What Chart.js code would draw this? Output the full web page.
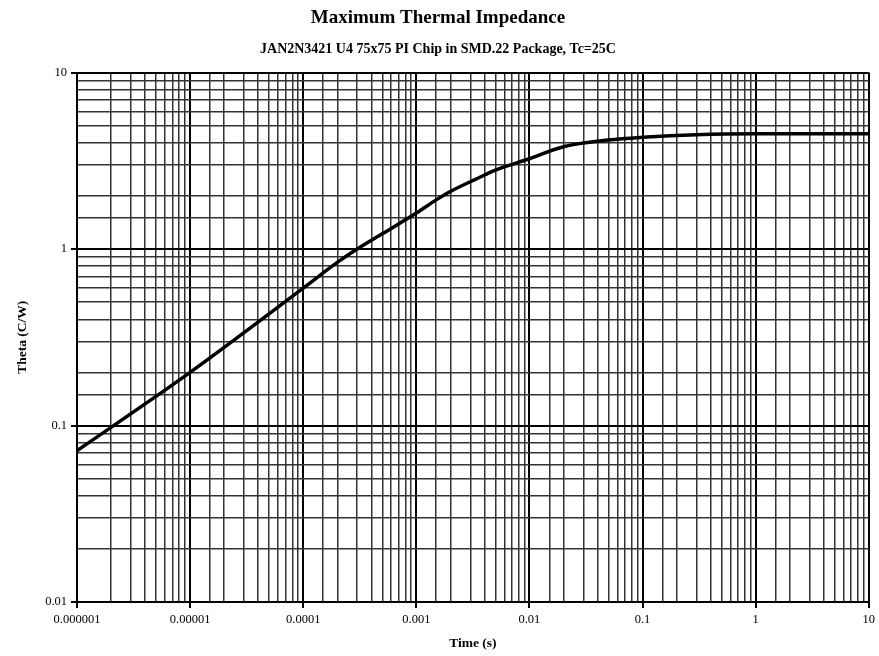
<!DOCTYPE html>
<html>
<head>
<meta charset="utf-8">
<script src="https://cdn.jsdelivr.net/npm/chart.js@4/dist/chart.umd.min.js"></script>
<style>
  html, body { margin: 0; padding: 0; background: #fff; }
  #wrap { width: 879px; height: 656px; }
</style>
</head>
<body>
<div id="wrap"><canvas id="thermal"></canvas></div>
<script>
// values (log-log)
const timeValues  = [0.000001, 0.00001, 0.0001, 0.0002, 0.0003, 0.0005, 0.001, 0.0015, 0.002, 0.0035, 0.005, 0.01, 0.02, 0.05, 0.1, 0.3, 1, 10]
const thetaValues = [0.072, 0.2, 0.6, 0.84, 1.0, 1.22, 1.6, 1.9, 2.12, 2.52, 2.8, 3.25, 3.8, 4.15, 4.3, 4.45, 4.5, 4.5]

const xTickLabels = ['0.000001', '0.00001', '0.0001', '0.001', '0.01', '0.1', '1', '10']
const yTickLabels = ['0.01', '0.1', '1', '10']

const serif = '"Liberation Serif", "DejaVu Serif", serif'

const isDecade = v => Math.abs(Math.log10(v) - Math.round(Math.log10(v))) < 1e-9

const gridStyle = {
  color: ctx => (ctx.tick && ctx.tick.major) ? '#000' : '#333',
  lineWidth: ctx => (ctx.tick && ctx.tick.major) ? 2 : 1.5,
  tickColor: ctx => (ctx.tick && isDecade(ctx.tick.value)) ? '#000' : 'rgba(0,0,0,0)',
  tickLength: 6,
  drawTicks: true
}

new Chart(document.getElementById('thermal'), {
  type: 'line',
  data: {
    datasets: [{
      data: timeValues.map((t, i) => ({ x: t, y: thetaValues[i] })),
      borderColor: '#000',
      borderWidth: 3.5,
      pointRadius: 0,
      cubicInterpolationMode: 'monotone',
      fill: false
    }]
  },
  options: {
    responsive: true,
    maintainAspectRatio: false,
    animation: false,
    layout: { padding: { left: 0, right: 3, top: 0, bottom: 0 } },
    plugins: {
      legend: { display: false },
      tooltip: { enabled: false },
      title: {
        display: true,
        text: 'Maximum Thermal Impedance',
        color: '#000',
        font: { family: serif, size: 19, weight: 'bold' },
        padding: { top: 7, bottom: 8 }
      },
      subtitle: {
        display: true,
        text: 'JAN2N3421 U4 75x75 PI Chip in SMD.22 Package, Tc=25C',
        color: '#000',
        font: { family: serif, size: 14, weight: 'bold' },
        padding: { top: 3, bottom: 15 }
      }
    },
    scales: {
      x: {
        type: 'logarithmic',
        min: 0.000001,
        max: 10,
        grid: gridStyle,
        border: { color: '#000', width: 2 },
        ticks: {
          autoSkip: false,
          maxRotation: 0,
          padding: 4,
          color: '#000',
          font: { family: serif, size: 12.5 },
          callback: v => isDecade(v) ? xTickLabels[Math.round(Math.log10(v)) + 6] : ''
        },
        title: {
          display: true,
          text: 'Time (s)',
          color: '#000',
          font: { family: serif, size: 13.5, weight: 'bold' },
          padding: { top: 0, bottom: 4 }
        },
        afterFit: s => { s.height = 54 }
      },
      y: {
        type: 'logarithmic',
        min: 0.01,
        max: 10,
        grid: gridStyle,
        border: { color: '#000', width: 2 },
        ticks: {
          autoSkip: false,
          padding: 4,
          color: '#000',
          font: { family: serif, size: 12.5 },
          callback: v => isDecade(v) ? yTickLabels[Math.round(Math.log10(v)) + 2] : ''
        },
        title: {
          display: true,
          text: 'Theta (C/W)',
          color: '#000',
          font: { family: serif, size: 13.5, weight: 'bold' },
          padding: { top: 14, bottom: 0 }
        },
        afterFit: s => { s.width = 77 }
      }
    }
  }
})
</script>
</body>
</html>
